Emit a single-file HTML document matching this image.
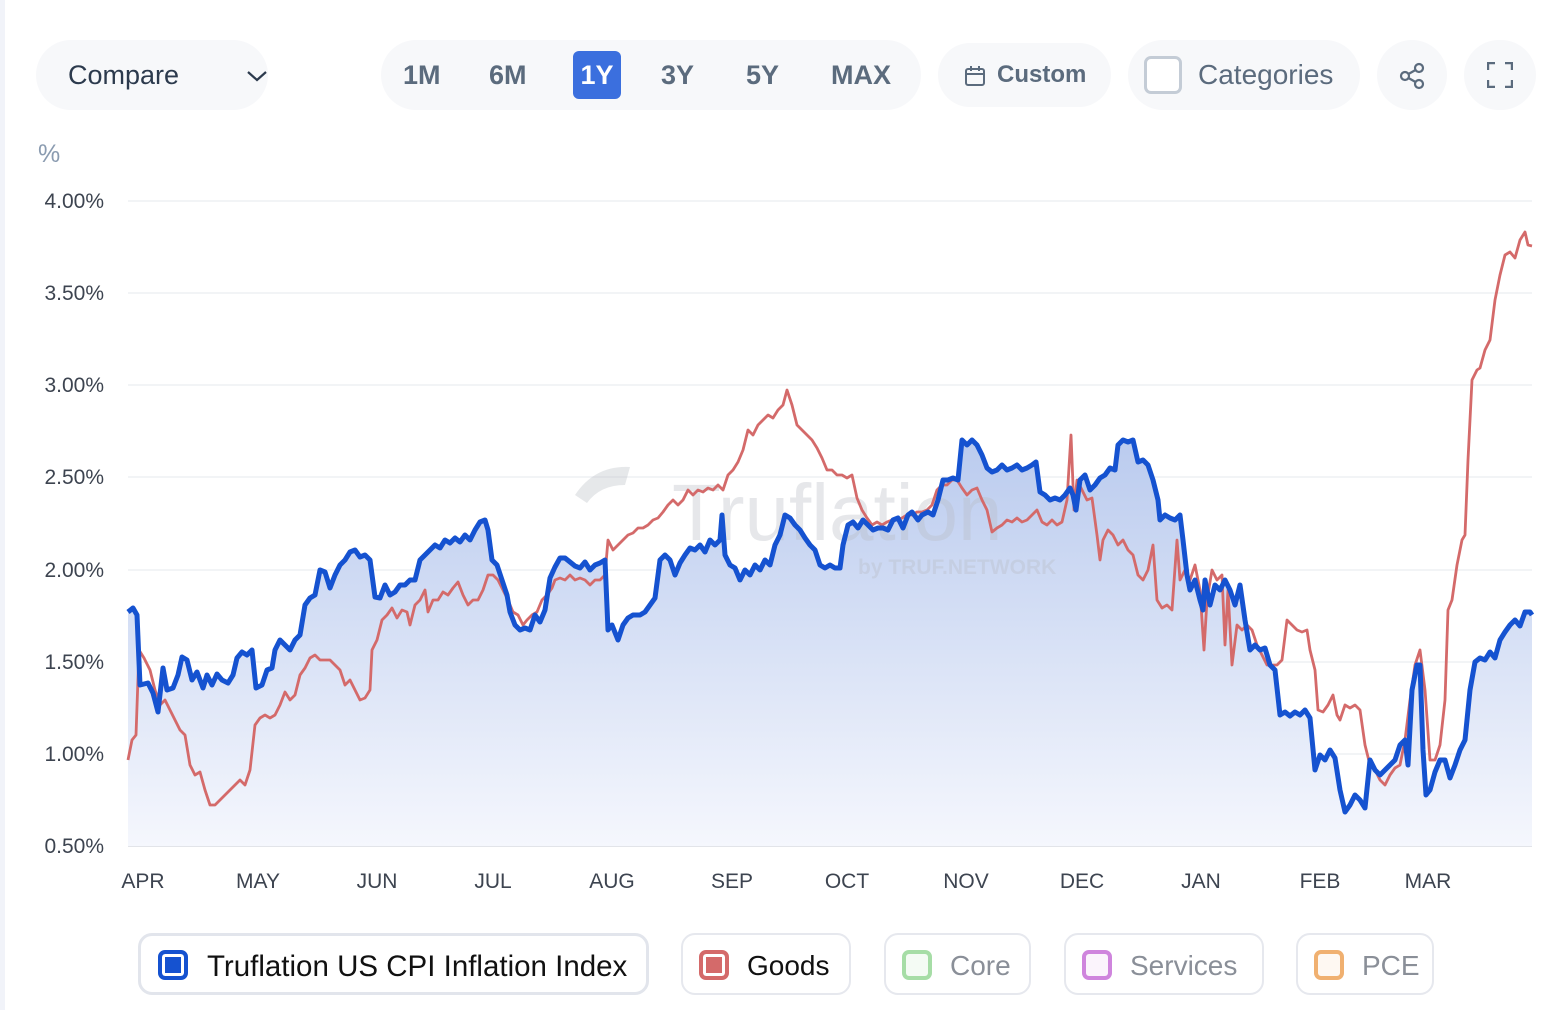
<!DOCTYPE html>
<html><head><meta charset="utf-8"><style>
body{margin:0;width:1560px;height:1010px;background:#fff;font-family:"Liberation Sans",sans-serif;position:relative;overflow:hidden}
.pill{position:absolute;background:#f7f8fa;border-radius:36px;color:#5b6b7d;font-size:27px}
.b{position:absolute;top:0;line-height:70px}
.leg{position:absolute;top:933px;height:62px;border:2px solid #e6e8ee;border-radius:14px;font-size:28px;line-height:62px;box-sizing:border-box;background:#fff}
.sq{position:absolute;left:16px;top:15px;width:30px;height:30px;border:4px solid;border-radius:7px;box-sizing:border-box}
</style></head><body>
<div style="position:absolute;left:0;top:0;width:5px;height:1010px;background:#f1f3f9"></div>
<div class="pill" style="left:36px;top:40px;width:232px;height:70px;color:#2c3a4d"><span class="b" style="left:32px">Compare</span><svg style="position:absolute;left:210px;top:30px" width="22" height="12" viewBox="0 0 22 12" fill="none" stroke="#2c3a4d" stroke-width="2.2"><path d="M2 2l9 8 9-8"/></svg></div>
<div class="pill" style="left:381px;top:40px;width:540px;height:70px;font-weight:bold">
<span class="b" style="left:22px">1M</span><span class="b" style="left:108px">6M</span>
<span style="position:absolute;left:192px;top:11px;width:48px;height:48px;background:#3b6fde;border-radius:6px;color:#fff;text-align:center;line-height:48px">1Y</span>
<span class="b" style="left:280px">3Y</span><span class="b" style="left:365px">5Y</span><span class="b" style="left:450px">MAX</span></div>
<div class="pill" style="left:938px;top:43px;width:173px;height:64px;font-weight:bold;font-size:24px">
<svg style="position:absolute;left:25px;top:21px" width="24" height="24" viewBox="0 0 24 24" fill="none" stroke="#5b6b7d" stroke-width="2"><rect x="3" y="5" width="18" height="16" rx="2"/><path d="M3 10h18M8 2v5M16 2v5"/></svg>
<span class="b" style="left:59px;line-height:64px">Custom</span></div>
<div class="pill" style="left:1128px;top:40px;width:232px;height:70px;font-size:28px">
<span style="position:absolute;left:16px;top:16px;width:38px;height:38px;border:3px solid #c4ccd6;border-radius:7px;box-sizing:border-box;background:#fff"></span>
<span class="b" style="left:70px">Categories</span></div>
<div class="pill" style="left:1377px;top:40px;width:70px;height:70px"><svg style="position:absolute;left:21px;top:22px" width="28" height="28" viewBox="0 0 28 28" fill="none" stroke="#5b6b7d" stroke-width="2.2"><circle cx="7" cy="14" r="4"/><circle cx="21" cy="6" r="4"/><circle cx="21" cy="22" r="4"/><path d="M10.5 12l7-4M10.5 16l7 4"/></svg></div>
<div class="pill" style="left:1464px;top:40px;width:72px;height:70px"><svg style="position:absolute;left:23px;top:22px" width="26" height="26" viewBox="0 0 26 26" fill="none" stroke="#5b6b7d" stroke-width="2.4"><path d="M1 8V1h7M18 1h7v7M25 18v7h-7M8 25H1v-7"/></svg></div>

<svg style="position:absolute;left:0;top:0" width="1560" height="1010">
<defs><linearGradient id="g" x1="0" y1="430" x2="0" y2="846" gradientUnits="userSpaceOnUse"><stop offset="0" stop-color="#b9caee"/><stop offset="1" stop-color="#f5f7fd"/></linearGradient></defs>
<text x="38" y="162" font-size="25" fill="#8a9bb0" font-family="Liberation Sans">%</text>
<g stroke="#eef0f3" stroke-width="1.5">
<line x1="128" y1="201" x2="1532" y2="201"/><line x1="128" y1="293" x2="1532" y2="293"/><line x1="128" y1="385" x2="1532" y2="385"/><line x1="128" y1="477" x2="1532" y2="477"/><line x1="128" y1="570" x2="1532" y2="570"/><line x1="128" y1="662" x2="1532" y2="662"/><line x1="128" y1="754" x2="1532" y2="754"/></g>
<line x1="128" y1="846" x2="1532" y2="846" stroke="#d8dce2" stroke-width="1.5"/>
<g font-size="21" fill="#3d4450" text-anchor="end" font-family="Liberation Sans">
<text x="104" y="208">4.00%</text><text x="104" y="300">3.50%</text><text x="104" y="392">3.00%</text><text x="104" y="484">2.50%</text><text x="104" y="577">2.00%</text><text x="104" y="669">1.50%</text><text x="104" y="761">1.00%</text><text x="104" y="853">0.50%</text></g>
<g font-size="21" fill="#3d4450" text-anchor="middle" font-family="Liberation Sans">
<text x="143" y="888">APR</text><text x="258" y="888">MAY</text><text x="377" y="888">JUN</text><text x="493" y="888">JUL</text><text x="612" y="888">AUG</text><text x="732" y="888">SEP</text><text x="847" y="888">OCT</text><text x="966" y="888">NOV</text><text x="1082" y="888">DEC</text><text x="1201" y="888">JAN</text><text x="1320" y="888">FEB</text><text x="1428" y="888">MAR</text></g>
<polygon fill="url(#g)" points="128,846 128,612 133,608 137,615 140,685 148,683 153,693 158,712 163,668 167,690 173,688 178,675 182,657 187,660 192,680 197,672 203,688 207,675 212,685 217,674 222,680 228,683 233,675 237,658 242,652 247,655 252,650 256,688 262,685 267,670 272,668 275,650 280,640 285,645 290,650 295,640 300,635 305,605 310,598 315,595 320,570 325,572 330,588 335,575 340,565 345,560 350,552 355,550 360,557 365,555 370,560 375,597 380,598 385,585 390,595 395,592 400,585 405,585 410,580 415,580 420,560 425,555 430,550 435,545 440,548 445,540 450,543 455,538 460,542 465,535 470,540 475,530 480,522 485,520 488,530 492,560 497,565 502,580 507,595 510,612 515,625 520,630 525,628 530,630 535,615 540,622 545,610 550,578 555,567 560,558 565,558 570,562 575,566 580,568 585,562 590,570 595,565 600,563 605,560 608,630 612,625 618,640 623,625 628,618 633,615 640,615 645,612 650,605 655,598 660,560 665,555 670,560 675,575 680,563 685,555 690,548 695,550 700,545 705,552 710,540 715,545 720,540 722,515 725,555 730,565 735,568 740,580 745,570 750,575 755,565 760,570 765,560 770,565 775,545 780,535 785,515 790,518 795,525 800,530 805,538 810,545 815,550 820,565 825,568 830,565 835,568 840,568 843,545 848,525 853,522 858,528 863,520 868,525 873,530 878,528 883,528 888,530 893,520 898,518 903,528 908,515 912,512 918,520 922,515 928,512 933,515 938,500 943,480 948,480 953,478 958,480 962,440 967,445 972,440 977,445 982,455 987,468 992,472 997,470 1002,465 1007,470 1012,468 1017,465 1022,470 1027,468 1032,465 1036,462 1040,492 1045,495 1050,500 1055,498 1060,500 1065,495 1070,488 1073,495 1076,510 1080,480 1085,475 1090,490 1095,485 1100,478 1105,475 1110,468 1115,470 1118,445 1123,440 1128,442 1133,440 1138,462 1143,460 1148,465 1153,480 1158,500 1160,520 1165,515 1170,518 1175,520 1180,515 1183,540 1187,575 1190,590 1195,580 1200,600 1203,610 1205,580 1210,605 1215,585 1220,590 1225,580 1230,590 1235,605 1240,585 1245,620 1250,650 1255,645 1260,650 1265,648 1270,665 1275,670 1280,715 1285,712 1290,716 1295,712 1300,715 1305,710 1310,718 1315,770 1320,755 1325,760 1330,750 1335,758 1340,790 1345,812 1350,805 1355,795 1360,800 1365,808 1370,760 1375,770 1380,775 1385,770 1390,765 1395,760 1400,745 1405,740 1408,765 1412,690 1417,665 1420,665 1423,750 1426,795 1430,790 1435,772 1440,760 1445,760 1450,778 1455,765 1460,750 1465,740 1470,690 1475,662 1480,658 1485,660 1490,652 1495,658 1500,640 1505,632 1510,625 1515,620 1520,626 1525,612 1530,612 1532,615 1532,846"/>
<g opacity="0.35" fill="#b8bcc4" font-family="Liberation Sans" font-weight="bold">
<text x="672" y="540" font-size="80" font-weight="normal">Truflation</text>
<text x="858" y="574" font-size="21">by TRUF.NETWORK</text>
<path d="M575 495 q20 -30 55 -28 l-5 18 q-25 0 -38 18 z"/></g>
<polyline fill="none" stroke="#d46a6a" stroke-width="2.8" stroke-linejoin="round" points="128,760 132,740 136,735 139,650 144,658 150,670 155,690 160,705 165,700 170,710 175,720 180,730 185,735 190,765 195,775 200,772 205,790 210,805 215,805 220,800 225,795 230,790 235,785 240,780 245,785 250,770 255,725 260,718 265,715 270,718 275,715 280,705 285,692 290,700 295,695 300,675 305,668 310,658 315,655 320,660 325,660 330,660 335,665 340,670 345,685 350,680 355,690 360,700 365,698 370,690 372,650 377,640 382,620 387,615 392,608 397,618 402,610 407,612 410,625 415,605 420,600 425,590 428,612 433,600 438,600 443,592 448,595 453,588 458,582 463,595 468,605 473,600 478,600 483,590 488,575 493,575 498,580 503,590 508,600 513,612 518,615 523,625 527,620 532,615 537,612 542,600 547,595 552,588 555,580 560,578 565,580 570,575 575,580 580,578 585,580 590,585 595,580 600,580 605,575 608,540 613,550 618,545 623,540 628,535 633,533 638,528 643,528 648,525 653,520 658,518 663,512 668,505 673,500 678,505 683,500 688,490 693,495 698,490 703,492 708,488 713,490 718,485 723,490 728,475 733,470 738,462 743,450 748,430 753,435 758,425 763,420 768,415 773,418 778,410 783,405 787,390 792,405 797,425 802,430 807,435 812,440 817,448 822,458 827,470 832,470 837,475 842,475 847,478 852,475 857,498 862,510 867,518 872,525 877,522 882,525 887,522 892,520 897,520 902,518 907,515 912,515 917,512 922,512 927,510 932,505 937,490 942,485 947,485 952,480 957,480 962,488 967,495 972,490 977,488 982,500 987,510 992,532 997,528 1002,525 1007,520 1012,522 1017,518 1022,522 1027,520 1032,515 1037,510 1042,522 1047,525 1052,520 1057,525 1062,522 1067,500 1071,435 1074,510 1077,480 1082,490 1087,500 1092,498 1097,535 1100,560 1103,540 1108,530 1113,535 1118,545 1123,540 1128,550 1133,555 1138,575 1143,580 1148,570 1153,545 1157,600 1162,608 1167,605 1172,610 1177,540 1180,580 1185,570 1190,580 1195,565 1200,590 1204,650 1207,600 1212,570 1217,580 1222,575 1225,645 1228,590 1232,665 1237,625 1242,630 1247,625 1252,630 1257,645 1262,655 1267,665 1272,665 1277,665 1282,660 1287,620 1292,625 1297,630 1302,632 1307,630 1310,650 1315,670 1318,710 1323,712 1328,705 1333,695 1337,715 1340,720 1345,705 1350,708 1355,705 1360,710 1365,745 1370,765 1375,770 1380,780 1385,785 1390,775 1395,768 1400,765 1405,740 1410,700 1415,665 1420,650 1425,690 1430,760 1435,760 1440,745 1445,700 1448,610 1452,600 1457,565 1462,540 1465,535 1468,460 1472,380 1477,370 1480,368 1485,350 1490,340 1495,300 1500,275 1505,255 1510,252 1515,258 1520,240 1525,232 1528,245 1532,246"/>
<polyline fill="none" stroke="#1552d0" stroke-width="5" stroke-linejoin="round" points="128,612 133,608 137,615 140,685 148,683 153,693 158,712 163,668 167,690 173,688 178,675 182,657 187,660 192,680 197,672 203,688 207,675 212,685 217,674 222,680 228,683 233,675 237,658 242,652 247,655 252,650 256,688 262,685 267,670 272,668 275,650 280,640 285,645 290,650 295,640 300,635 305,605 310,598 315,595 320,570 325,572 330,588 335,575 340,565 345,560 350,552 355,550 360,557 365,555 370,560 375,597 380,598 385,585 390,595 395,592 400,585 405,585 410,580 415,580 420,560 425,555 430,550 435,545 440,548 445,540 450,543 455,538 460,542 465,535 470,540 475,530 480,522 485,520 488,530 492,560 497,565 502,580 507,595 510,612 515,625 520,630 525,628 530,630 535,615 540,622 545,610 550,578 555,567 560,558 565,558 570,562 575,566 580,568 585,562 590,570 595,565 600,563 605,560 608,630 612,625 618,640 623,625 628,618 633,615 640,615 645,612 650,605 655,598 660,560 665,555 670,560 675,575 680,563 685,555 690,548 695,550 700,545 705,552 710,540 715,545 720,540 722,515 725,555 730,565 735,568 740,580 745,570 750,575 755,565 760,570 765,560 770,565 775,545 780,535 785,515 790,518 795,525 800,530 805,538 810,545 815,550 820,565 825,568 830,565 835,568 840,568 843,545 848,525 853,522 858,528 863,520 868,525 873,530 878,528 883,528 888,530 893,520 898,518 903,528 908,515 912,512 918,520 922,515 928,512 933,515 938,500 943,480 948,480 953,478 958,480 962,440 967,445 972,440 977,445 982,455 987,468 992,472 997,470 1002,465 1007,470 1012,468 1017,465 1022,470 1027,468 1032,465 1036,462 1040,492 1045,495 1050,500 1055,498 1060,500 1065,495 1070,488 1073,495 1076,510 1080,480 1085,475 1090,490 1095,485 1100,478 1105,475 1110,468 1115,470 1118,445 1123,440 1128,442 1133,440 1138,462 1143,460 1148,465 1153,480 1158,500 1160,520 1165,515 1170,518 1175,520 1180,515 1183,540 1187,575 1190,590 1195,580 1200,600 1203,610 1205,580 1210,605 1215,585 1220,590 1225,580 1230,590 1235,605 1240,585 1245,620 1250,650 1255,645 1260,650 1265,648 1270,665 1275,670 1280,715 1285,712 1290,716 1295,712 1300,715 1305,710 1310,718 1315,770 1320,755 1325,760 1330,750 1335,758 1340,790 1345,812 1350,805 1355,795 1360,800 1365,808 1370,760 1375,770 1380,775 1385,770 1390,765 1395,760 1400,745 1405,740 1408,765 1412,690 1417,665 1420,665 1423,750 1426,795 1430,790 1435,772 1440,760 1445,760 1450,778 1455,765 1460,750 1465,740 1470,690 1475,662 1480,658 1485,660 1490,652 1495,658 1500,640 1505,632 1510,625 1515,620 1520,626 1525,612 1530,612 1532,615"/>
</svg>

<div class="leg" style="left:138px;width:511px;border:3px solid #e2e5ec;color:#111;font-size:29.5px"><span class="sq" style="left:17px;top:14px;border-color:#1552d0;background:#1552d0;box-shadow:inset 0 0 0 3px #fff"></span><span style="position:absolute;left:66px">Truflation US CPI Inflation Index</span></div>
<div class="leg" style="left:681px;width:170px;color:#111"><span class="sq" style="border-color:#d46a6a;background:#d46a6a;box-shadow:inset 0 0 0 3px #fff"></span><span style="position:absolute;left:64px">Goods</span></div>
<div class="leg" style="left:884px;width:147px;color:#8a8f98"><span class="sq" style="border-color:#a6dda6;background:#f4fbf4"></span><span style="position:absolute;left:64px">Core</span></div>
<div class="leg" style="left:1064px;width:200px;color:#8a8f98"><span class="sq" style="border-color:#cf85dd;background:#fbf4fc"></span><span style="position:absolute;left:64px">Services</span></div>
<div class="leg" style="left:1296px;width:138px;color:#8a8f98"><span class="sq" style="border-color:#f0b070;background:#fef8f2"></span><span style="position:absolute;left:64px">PCE</span></div>
</body></html>
